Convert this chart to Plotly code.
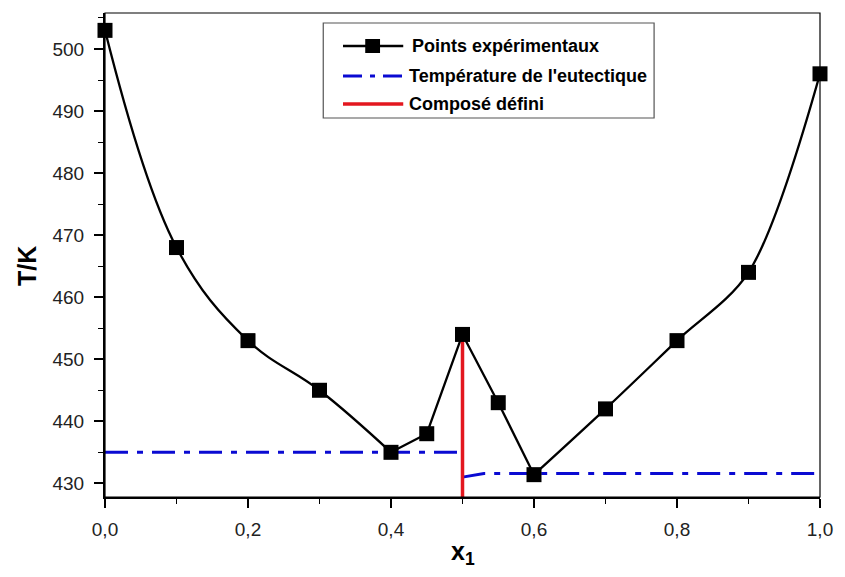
import plotly.graph_objects as go

# Experimental liquidus points
x1 = [0.0, 0.1, 0.2, 0.3, 0.4, 0.45, 0.5, 0.55, 0.6, 0.7, 0.8, 0.9, 1.0]
T = [503, 468, 453, 445, 435, 438, 454, 443, 431.4, 442, 453, 464, 496]

# Eutectic temperature lines
eut1_x = [0.0, 0.5]
eut1_T = [435, 435]
eut2_x = [0.5, 0.53, 1.0]
eut2_T = [431.0, 431.6, 431.6]

# Defined compound (congruent melting point)
comp_x = 0.5
comp_T = 454

x_ticks = [0.0, 0.2, 0.4, 0.6, 0.8, 1.0]
x_ticktext = ["0,0", "0,2", "0,4", "0,6", "0,8", "1,0"]
y_ticks = [430, 440, 450, 460, 470, 480, 490, 500]
y_range = [427.8, 505.8]

W, H = 845, 577
ML, MR, MT, MB = 105, 16, 13, 80
PW, PH = W - ML - MR, H - MT - MB

FONT = "Arial, Liberation Sans, sans-serif"
BLUE = "#0a0ad2"
RED = "#e3171f"
DASHDOT = "23px,9px,6px,9px"


def px_x(px):
    return (px - ML) / PW


def px_y(py):
    return (H - MB - py) / PH


fig = go.Figure()

fig.add_trace(go.Scatter(x=eut1_x, y=eut1_T, mode="lines",
                         line=dict(color=BLUE, width=3, dash=DASHDOT),
                         showlegend=False, hoverinfo="skip"))
fig.add_trace(go.Scatter(x=eut2_x, y=eut2_T, mode="lines",
                         line=dict(color=BLUE, width=3, dash=DASHDOT),
                         showlegend=False, hoverinfo="skip"))

# Smooth branches and the straight segments around the compound
fig.add_trace(go.Scatter(x=x1[:5], y=T[:5], mode="lines",
                         line=dict(color="black", width=2.3, shape="spline", smoothing=1.1),
                         showlegend=False, hoverinfo="skip"))
fig.add_trace(go.Scatter(x=x1[4:9], y=T[4:9], mode="lines",
                         line=dict(color="black", width=2.3),
                         showlegend=False, hoverinfo="skip"))
fig.add_trace(go.Scatter(x=x1[8:], y=T[8:], mode="lines",
                         line=dict(color="black", width=2.3, shape="spline", smoothing=0.9),
                         showlegend=False, hoverinfo="skip"))

fig.add_trace(go.Scatter(x=[comp_x, comp_x], y=[y_range[0], comp_T], mode="lines",
                         line=dict(color=RED, width=3.5),
                         showlegend=False, hoverinfo="skip"))

fig.add_trace(go.Scatter(x=x1, y=T, mode="markers",
                         marker=dict(symbol="square", size=15, color="black",
                                     line=dict(width=0)),
                         showlegend=False, cliponaxis=False))

shapes = []
annotations = []

# Thin frame on top / right
shapes.append(dict(type="rect", xref="paper", yref="paper", x0=0, x1=1, y0=0, y1=1,
                   line=dict(color="black", width=1.2), layer="above"))

# Legend box
shapes.append(dict(type="rect", xref="paper", yref="paper",
                   x0=px_x(326), x1=px_x(661), y0=px_y(118), y1=px_y(23),
                   line=dict(color="#555", width=1.2), fillcolor="white", layer="above"))

legend_rows = [
    (46, "Points expérimentaux", "black", 2.3, "solid", 414),
    (76, "Température de l'eutectique", BLUE, 3, "19px,8px,5px,8px", 411),
    (104, "Composé défini", RED, 3.5, "solid", 411),
]
for y, label, col, lw, dash, tx in legend_rows:
    shapes.append(dict(type="line", xref="paper", yref="paper",
                       x0=px_x(346), x1=px_x(407), y0=px_y(y), y1=px_y(y),
                       line=dict(color=col, width=lw, dash=dash),
                       layer="above"))
    annotations.append(dict(xref="paper", yref="paper", x=px_x(tx), y=px_y(y),
                            text=f"<b>{label}</b>", showarrow=False,
                            xanchor="left", yanchor="middle",
                            font=dict(family=FONT, size=18, color="black")))
# Marker symbol in the first legend row
shapes.append(dict(type="rect", xref="paper", yref="paper",
                   x0=px_x(368.5), x1=px_x(383.5), y0=px_y(53), y1=px_y(39),
                   line=dict(width=0), fillcolor="black", layer="above"))

# Axis titles
annotations.append(dict(xref="paper", yref="paper", x=px_x(26), y=px_y(266),
                        text="<b>T/K</b>", showarrow=False, textangle=-90,
                        xanchor="center", yanchor="middle",
                        font=dict(family=FONT, size=25, color="black")))
annotations.append(dict(xref="paper", yref="paper", x=px_x(468), y=px_y(553),
                        text="<b>x<sub>1</sub></b>", showarrow=False,
                        xanchor="center", yanchor="middle",
                        font=dict(family=FONT, size=25, color="black")))

fig.update_layout(
    width=W, height=H,
    margin=dict(l=ML, r=MR, t=MT, b=MB, pad=0),
    paper_bgcolor="white", plot_bgcolor="white",
    shapes=shapes, annotations=annotations,
    showlegend=False,
    font=dict(family=FONT, color="#222"),
)

fig.update_xaxes(
    range=[0, 1], tickvals=x_ticks, ticktext=x_ticktext,
    showgrid=False, zeroline=False,
    showline=True, linecolor="black", linewidth=2,
    ticks="outside", ticklen=9, tickwidth=1.6, tickcolor="black",
    ticklabelstandoff=5,
    tickfont=dict(family=FONT, size=19, color="#222"),
    minor=dict(dtick=0.1, ticks="outside", ticklen=5, tickwidth=1.4, tickcolor="black",
               showgrid=False),
)
fig.update_yaxes(
    range=y_range, tickvals=y_ticks,
    showgrid=False, zeroline=False,
    showline=True, linecolor="black", linewidth=2,
    ticks="outside", ticklen=9, tickwidth=1.6, tickcolor="black",
    ticklabelstandoff=6,
    tickfont=dict(family=FONT, size=19, color="#222"),
    minor=dict(tick0=430, dtick=5, ticks="outside", ticklen=5, tickwidth=1.4,
               tickcolor="black", showgrid=False),
)

fig.write_html("out.html")
